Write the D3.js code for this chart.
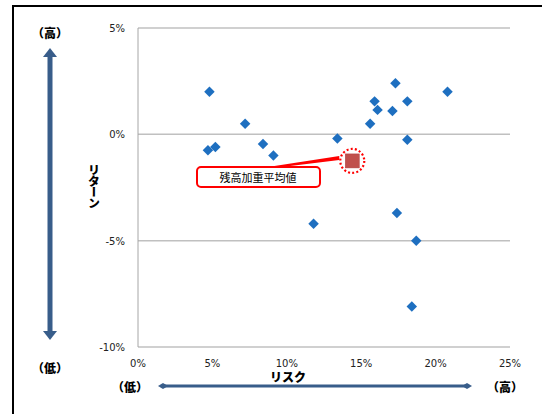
<!DOCTYPE html>
<html lang="ja">
<head>
  <meta charset="UTF-8">
  <title>リスク・リターン</title>
  <script src="https://d3js.org/d3.v7.min.js"></script>
  <style>
    body { margin: 0; padding: 0; background: #fff; }
    svg { display: block; }
    .tick-label { font-family: "DejaVu Sans", sans-serif; font-size: 10px; fill: #222; }
    .jp { font-family: "Noto Sans CJK JP", sans-serif; font-weight: 900; font-size: 12px; fill: #000; }
  </style>
</head>
<body>
  <svg id="chart"></svg>
  <script>
    // risk (x, %) / return (y, %) of each fund
    const risk = [4.8, 4.7, 5.2, 7.2, 8.4, 9.1, 11.8, 13.4, 15.6, 15.9, 16.1, 17.1, 17.3, 18.1, 20.8, 18.1, 17.4, 18.7, 18.4];
    const ret  = [2.0, -0.75, -0.6, 0.5, -0.45, -1.0, -4.2, -0.2, 0.5, 1.55, 1.15, 1.1, 2.4, 1.55, 2.0, -0.25, -3.7, -5.0, -8.1];
    const avgPoint = [14.4, -1.25];
    const avgLabel = '残高加重平均値';
    const xTicks = [0, 5, 10, 15, 20, 25];
    const yTicks = [5, 0, -5, -10];

    const width = 542, height = 414;
    const svg = d3.select('#chart').attr('width', width).attr('height', height);

    const x = d3.scaleLinear().domain([0, 25]).range([138, 510]);
    const y = d3.scaleLinear().domain([-10, 5]).range([347, 28]);

    // outer frame
    svg.append('path')
      .attr('d', `M13,${height} V6 H${width}`)
      .attr('fill', 'none').attr('stroke', '#000').attr('stroke-width', 2);

    // gridlines
    svg.selectAll('.grid').data(yTicks).enter().append('line')
      .attr('x1', x(0)).attr('x2', x(25))
      .attr('y1', d => y(d)).attr('y2', d => y(d))
      .attr('stroke', '#c0c0c0').attr('stroke-width', 1.5);
    svg.append('line')
      .attr('x1', x(0)).attr('x2', x(0)).attr('y1', y(5)).attr('y2', y(-10))
      .attr('stroke', '#a6a6a6').attr('stroke-width', 1);

    svg.selectAll('.ylab').data(yTicks).enter().append('text')
      .attr('class', 'tick-label')
      .attr('x', 125).attr('y', d => y(d) + 4)
      .attr('text-anchor', 'end')
      .text(d => d + '%');
    svg.selectAll('.xlab').data(xTicks).enter().append('text')
      .attr('class', 'tick-label')
      .attr('x', d => x(d)).attr('y', 367)
      .attr('text-anchor', 'middle')
      .text(d => d + '%');

    // callout to the weighted average
    const ax = x(avgPoint[0]), ay = y(avgPoint[1]);
    svg.append('path')
      .attr('d', `M268,167 L${ax - 13},${ay - 5} L${ax - 13},${ay - 1} L282,167 Z`)
      .attr('fill', '#ff0000');
    svg.append('rect')
      .attr('x', 197).attr('y', 167).attr('width', 123).attr('height', 20)
      .attr('rx', 4).attr('fill', '#fff').attr('stroke', '#ff0000').attr('stroke-width', 2);
    svg.append('text')
      .attr('x', 258).attr('y', 181.5)
      .attr('text-anchor', 'middle')
      .style('font-family', '"Noto Sans CJK JP", sans-serif').style('font-size', '11px')
      .text(avgLabel);

    // points
    const pts = risk.map((r, i) => [r, ret[i]]);
    svg.selectAll('.pt').data(pts).enter().append('path')
      .attr('d', d3.symbol(d3.symbolDiamond2, 70))
      .attr('transform', d => `translate(${x(d[0])},${y(d[1])})`)
      .attr('fill', '#1e6fc0');

    svg.append('rect')
      .attr('x', ax - 7).attr('y', ay - 7).attr('width', 14).attr('height', 14)
      .attr('fill', '#c0504d').attr('stroke', '#b04040').attr('stroke-width', 0.5);
    svg.append('circle')
      .attr('cx', ax).attr('cy', ay).attr('r', 12)
      .attr('fill', 'none').attr('stroke', '#ff0000').attr('stroke-width', 2.2)
      .attr('stroke-dasharray', '2,2.2');

    // vertical return arrow
    const blue = '#385d8a';
    svg.append('line')
      .attr('x1', 50).attr('x2', 50).attr('y1', 56).attr('y2', 332)
      .attr('stroke', blue).attr('stroke-width', 5);
    svg.append('path').attr('d', 'M50,48 L57,57 L43,57 Z').attr('fill', blue);
    svg.append('path').attr('d', 'M50,340 L57,331 L43,331 Z').attr('fill', blue);
    svg.append('text').attr('class', 'jp').attr('x', 50).attr('y', 38).attr('text-anchor', 'middle').text('（高）');
    svg.append('text').attr('class', 'jp').attr('x', 50).attr('y', 373).attr('text-anchor', 'middle').text('（低）');

    svg.append('text').attr('class', 'jp')
      .attr('x', 94).attr('y', 164)
      .style('writing-mode', 'vertical-rl')
      .style('text-orientation', 'upright')
      .style('letter-spacing', '-1px')
      .text('リターン');

    // horizontal risk arrow
    svg.append('line')
      .attr('x1', 162).attr('x2', 468).attr('y1', 386).attr('y2', 386)
      .attr('stroke', blue).attr('stroke-width', 3);
    svg.append('path').attr('d', 'M158,386 L163,383 L168,386 L163,389 Z').attr('fill', blue);
    svg.append('path').attr('d', 'M472,386 L467,383 L462,386 L467,389 Z').attr('fill', blue);
    svg.append('text').attr('class', 'jp').attr('x', 288).attr('y', 382).attr('text-anchor', 'middle').text('リスク');
    svg.append('text').attr('class', 'jp').attr('x', 130).attr('y', 392).attr('text-anchor', 'middle').text('（低）');
    svg.append('text').attr('class', 'jp').attr('x', 505).attr('y', 392).attr('text-anchor', 'middle').text('（高）');
  </script>
</body>
</html>
